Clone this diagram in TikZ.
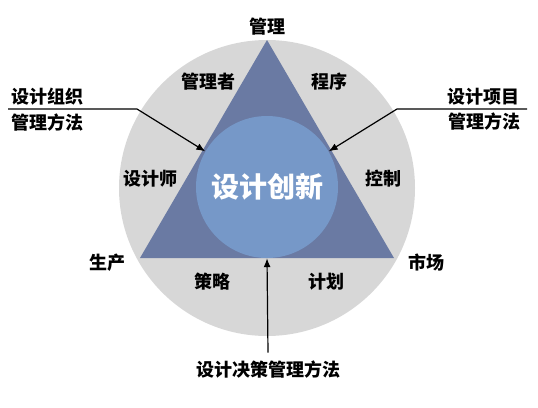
\documentclass[tikz,border=0pt]{standalone}
\usepackage{fontspec}
\setmainfont{Noto Sans CJK SC}
\usetikzlibrary{arrows.meta}

\definecolor{ringgray}{RGB}{215,215,215}
\definecolor{triblue}{RGB}{106,122,163}
\definecolor{coreblue}{RGB}{118,152,200}

\begin{document}
\begin{tikzpicture}[x=1pt,y=-1pt]

        \useasboundingbox (0,0) rectangle (538,407);

        \fill[ringgray] (267,188) circle (148);
        \fill[triblue] (267,40) -- (140,258) -- (394,258) -- cycle;

        \node[circle, fill=coreblue, minimum size=142pt, inner sep=0pt,
              text=white, font=\fontsize{28}{30}\selectfont\bfseries] (core) at (267,187) {设计创新};

        \begin{scope}[every node/.style={font=\fontsize{18}{20}\selectfont\bfseries}]
          \node (mgmt)       at (267,27)  {管理};
          \node (manager)    at (208,82)  {管理者};
          \node (procedure)  at (329,82)  {程序};
          \node (designer)   at (150,179) {设计师};
          \node (control)    at (383,179) {控制};
          \node (production) at (107,263) {生产};
          \node (market)     at (426,263) {市场};
          \node (strategy)   at (212,282) {策略};
          \node (plan)       at (326,282) {计划};
          \node (org1)       at (48,97)   {设计组织};
          \node (org2)       at (48,123)  {管理方法};
          \node (proj1)      at (483,97)  {设计项目};
          \node (proj2)      at (484,122) {管理方法};
          \node (decision)   at (268,370) {设计决策管理方法};
        \end{scope}

        \coordinate (orgstart)  at (8,109);
        \coordinate (orgbend)   at (137,109);
        \coordinate (projstart) at (527,109);
        \coordinate (projbend)  at (397,109);

        \begin{scope}[line width=1.2pt, -{Latex[length=9pt,width=7pt]}]
          \draw (orgstart) -- (orgbend) -- (core.150);
          \draw (projstart) -- (projbend) -- (core.30);
          \draw (decision.north) ++(0,-5) -- (core.south);
        \end{scope}

\end{tikzpicture}
\end{document}
